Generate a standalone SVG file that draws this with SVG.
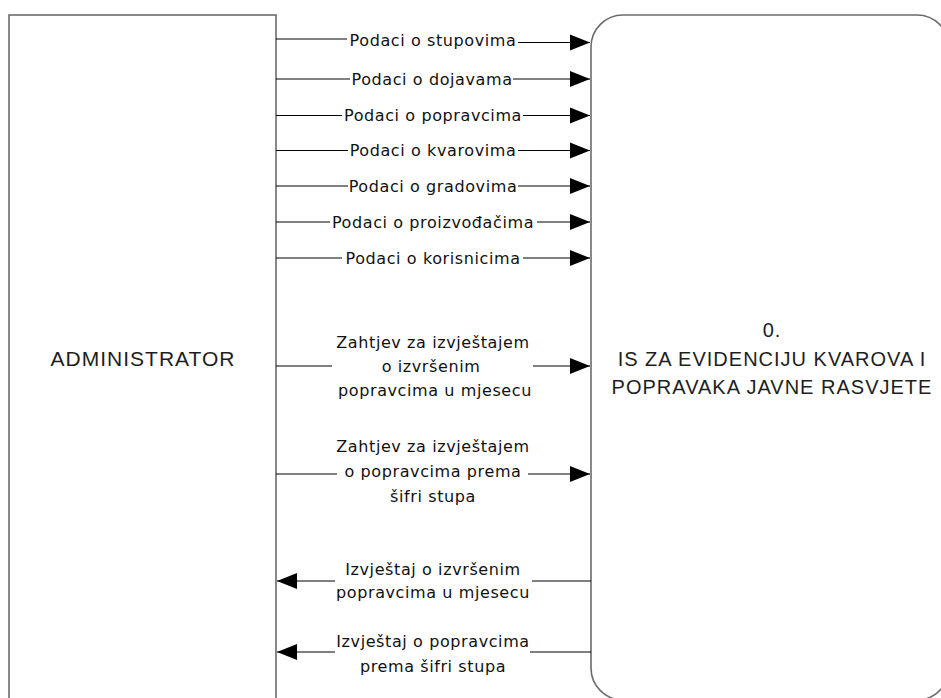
<svg xmlns="http://www.w3.org/2000/svg" width="941" height="698" viewBox="0 0 941 698">
<style>
.node{fill:#fff;stroke:#6b6b6b;stroke-width:1.6}
.ntext{font-family:"Liberation Sans",Arial,sans-serif;fill:#1e1e1e;text-anchor:middle;letter-spacing:1px}
.lbl{font-family:"DejaVu Sans",Verdana,sans-serif;font-size:16px;fill:#111;text-anchor:middle;letter-spacing:0.6px}
.c{fill:none;stroke:#000;stroke-width:1}
</style>
<defs>
<marker id="ah" markerWidth="20" markerHeight="18" refX="20" refY="9" orient="auto" markerUnits="userSpaceOnUse"><path d="M0,1 L20,9 L0,17 z" fill="#000"/></marker>
</defs>
<g id="administrator">
<rect class="node" x="9" y="15" width="267" height="710"/>
<text class="ntext" x="143" y="366" font-size="21">ADMINISTRATOR</text>
</g>
<g id="proces0">
<rect class="node" x="591" y="15" width="358" height="685" rx="32" ry="32"/>
<text class="ntext" x="772" y="337" font-size="20">0.</text>
<text class="ntext" x="772" y="366" font-size="20">IS ZA EVIDENCIJU KVAROVA I</text>
<text class="ntext" x="772" y="394" font-size="20">POPRAVAKA JAVNE RASVJETE</text>
</g>
<g id="connectors">
<path class="c" d="M276,39 H347"/><path class="c" d="M518,42.5 H590" marker-end="url(#ah)"/>
<path class="c" d="M276,79 H350"/><path class="c" d="M513,79 H590" marker-end="url(#ah)"/>
<path class="c" d="M276,115.5 H342"/><path class="c" d="M523,115.5 H590" marker-end="url(#ah)"/>
<path class="c" d="M276,150.5 H348"/><path class="c" d="M518,150.5 H590" marker-end="url(#ah)"/>
<path class="c" d="M276,186 H348"/><path class="c" d="M518,186 H590" marker-end="url(#ah)"/>
<path class="c" d="M276,222 H330"/><path class="c" d="M537,222 H590" marker-end="url(#ah)"/>
<path class="c" d="M276,258 H342"/><path class="c" d="M523,258 H590" marker-end="url(#ah)"/>
<path class="c" d="M276,366 H332"/><path class="c" d="M533,366 H590" marker-end="url(#ah)"/>
<path class="c" d="M276,474 H337"/><path class="c" d="M528,474 H590" marker-end="url(#ah)"/>
<path class="c" d="M591,581 H532"/><path class="c" d="M335,581 H277" marker-end="url(#ah)"/>
<path class="c" d="M591,652 H530"/><path class="c" d="M335,652 H277" marker-end="url(#ah)"/>
<text class="lbl" x="433" y="46">Podaci o stupovima</text>
<text class="lbl" x="432" y="84.5">Podaci o dojavama</text>
<text class="lbl" x="433" y="121">Podaci o popravcima</text>
<text class="lbl" x="433" y="156">Podaci o kvarovima</text>
<text class="lbl" x="433" y="191.5">Podaci o gradovima</text>
<text class="lbl" x="433" y="227.5">Podaci o proizvođačima</text>
<text class="lbl" x="433" y="263.5">Podaci o korisnicima</text>
<text class="lbl" x="433" y="348">Zahtjev za izvještajem</text>
<text class="lbl" x="431" y="372">o izvršenim</text>
<text class="lbl" x="435" y="396">popravcima u mjesecu</text>
<text class="lbl" x="433" y="452">Zahtjev za izvještajem</text>
<text class="lbl" x="433" y="477">o popravcima prema</text>
<text class="lbl" x="433" y="502">šifri stupa</text>
<text class="lbl" x="433" y="575">Izvještaj o izvršenim</text>
<text class="lbl" x="433" y="598">popravcima u mjesecu</text>
<text class="lbl" x="433" y="647">Izvještaj o popravcima</text>
<text class="lbl" x="433" y="672">prema šifri stupa</text>
</g>
</svg>
